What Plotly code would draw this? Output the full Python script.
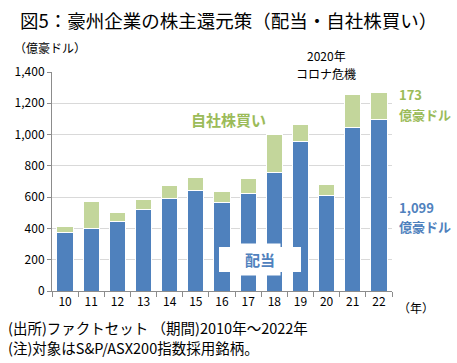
import plotly.graph_objects as go

years = ["10", "11", "12", "13", "14", "15", "16", "17", "18", "19", "20", "21", "22"]
dividends = [373, 398, 446, 520, 593, 644, 567, 624, 757, 957, 612, 1046, 1099]
buybacks = [38, 173, 53, 64, 80, 81, 68, 94, 243, 106, 66, 209, 173]

BLUE = "#4F81BD"
GREEN = "#C3D69B"
GREEN_TXT = "#9BBB59"
FONT = "Noto Sans CJK JP"

fig = go.Figure()
fig.add_trace(go.Bar(x=years, y=dividends, marker=dict(color=BLUE, line=dict(color="white", width=1)),
                     width=0.62, name="配当"))
fig.add_trace(go.Bar(x=years, y=buybacks, marker=dict(color=GREEN, line=dict(color="white", width=1)),
                     width=0.62, name="自社株買い"))

fig.update_layout(
    barmode="stack",
    width=457, height=363,
    margin=dict(l=52, r=65, t=72, b=72),
    paper_bgcolor="white", plot_bgcolor="white",
    showlegend=False,
    font=dict(family=FONT, color="black", size=12),
    xaxis=dict(type="category", range=[-0.5, 12.5], showline=True, linecolor="#8C8C8C",
               ticks="outside", tickson="boundaries", ticklen=5, tickcolor="#8C8C8C",
               tickfont=dict(size=12, color="black"), showgrid=False),
    yaxis=dict(range=[0, 1400], dtick=200, tickformat=",", showline=True, linecolor="#8C8C8C",
               ticks="outside", ticklen=4, tickcolor="#8C8C8C", gridcolor="#D9D9D9",
               tickfont=dict(size=12, color="black"), zeroline=False),
)

ann = []
def txt(x, y, text, size=12, color="black", anchor="center", bold=False, **kw):
    if bold:
        text = "<b>" + text + "</b>"
    ann.append(dict(xref="paper", yref="paper", x=x, y=y, text=text, showarrow=False,
                    xanchor=anchor, yanchor="middle", font=dict(size=size, color=color, family=FONT), **kw))

pl, pr, pt, pb = 52, 392, 72, 291
def pp(xp, yp):
    return (xp - pl) / (pr - pl), (pb - yp) / (pb - pt)

x, y = pp(228, 20); txt(x, y, "図5：豪州企業の株主還元策（配当・自社株買い）", size=18.5)
x, y = pp(12, 47); txt(x, y, "（億豪ドル）", size=12, anchor="left")
x, y = pp(326, 55); txt(x, y, "2020年", size=12)
x, y = pp(326, 73); txt(x, y, "コロナ危機", size=12)
x, y = pp(228, 119); txt(x, y, "自社株買い", size=15, color=GREEN_TXT, bold=True)
x, y = pp(260, 259); txt(x, y, "配当", size=15, color=BLUE, bold=True,
                         bgcolor="white", borderpad=5)
x, y = pp(397, 94); txt(x, y, "173", size=13, color=GREEN_TXT, anchor="left", bold=True)
x, y = pp(397, 114); txt(x, y, "億豪ドル", size=13, color=GREEN_TXT, anchor="left", bold=True)
x, y = pp(397, 207); txt(x, y, "1,099", size=13, color=BLUE, anchor="left", bold=True)
x, y = pp(397, 226); txt(x, y, "億豪ドル", size=13, color=BLUE, anchor="left", bold=True)
x, y = pp(396, 307); txt(x, y, "（年）", size=12, anchor="left")
x, y = pp(6, 327); txt(x, y, "(出所)ファクトセット （期間)2010年～2022年", size=14.5, anchor="left")
x, y = pp(6, 347); txt(x, y, "(注)対象はS&P/ASX200指数採用銘柄。", size=14.5, anchor="left")

for a in ann:
    fig.add_annotation(**a)

x0, y0 = pp(219, 247); x1, y1 = pp(301, 272)
fig.add_shape(type="rect", xref="paper", yref="paper", x0=x0, x1=x1, y0=y1, y1=y0,
              fillcolor="white", line=dict(width=0), layer="above")

fig.add_annotation(x="20", y=1110, xref="x", yref="y", ax=0, ay=-32, text="", showarrow=True,
                   arrowhead=2, arrowsize=1, arrowwidth=1, arrowcolor="#7F7F7F")

fig.write_html("out.html", config={"displayModeBar": False},
               post_script="document.body.style.margin='0';document.body.style.overflow='hidden';")
